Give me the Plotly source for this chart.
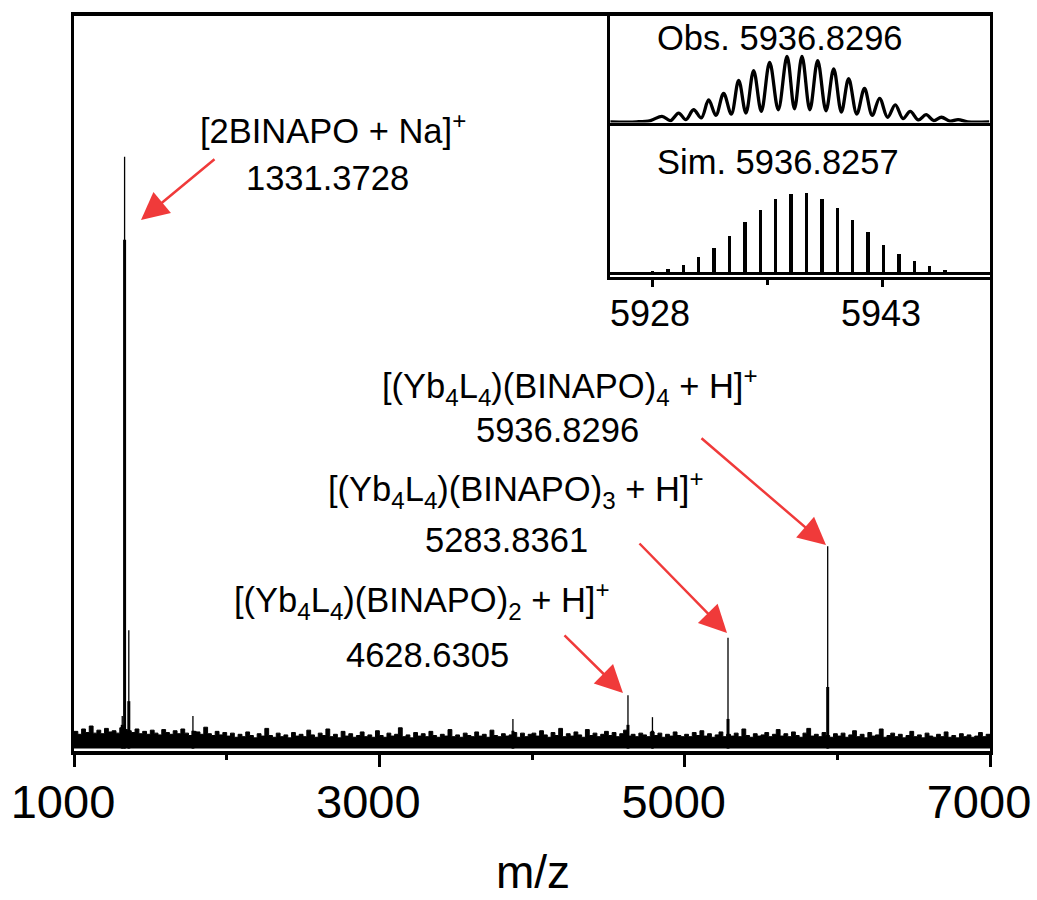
import plotly.graph_objects as go

# ---------------- main spectrum ----------------
# noise floor, sampled every 25 m/z from 1000 to 7000
noise_start = 1000
noise_step = 25
noise_int = [
    2.9, 2.4, 3.3, 2.7, 3.8, 2.6, 3.1, 2.5, 3.4, 2.8, 3.0, 2.6, 3.5, 3.2, 3.0, 2.7, 3.3, 2.5, 2.9, 2.4,
    3.1, 2.6, 2.3, 3.2, 2.7, 2.4, 3.0, 2.5, 3.3, 2.6, 2.2, 2.9, 2.8, 2.4, 3.6, 2.5, 2.2, 2.9, 2.3, 2.7,
    2.1, 2.6, 1.9, 2.4, 2.0, 2.8, 2.2, 1.8, 2.5, 2.1, 3.4, 2.2, 1.9, 2.6, 2.0, 2.3, 1.8, 2.7, 2.1, 2.4,
    2.0, 3.1, 2.3, 1.9, 2.6, 2.2, 3.3, 2.0, 2.4, 1.8, 2.9, 2.1, 2.5, 1.9, 2.2, 2.8, 2.0, 2.3, 1.9, 3.0,
    2.2, 1.9, 2.6, 2.1, 2.4, 3.5, 2.0, 2.3, 1.8, 2.7, 2.1, 2.5, 2.0, 2.9, 2.2, 1.9, 2.4, 2.1, 3.2, 2.0,
    2.3, 1.9, 2.6, 2.2, 2.0, 2.8, 2.1, 2.4, 1.9, 3.1, 2.2, 2.0, 2.5, 2.1, 2.3, 2.7, 1.9, 2.6, 2.0, 2.4,
    2.6, 2.1, 3.0, 2.3, 1.9, 2.7, 2.2, 3.4, 2.0, 2.5, 2.1, 2.8, 2.3, 1.9, 3.2, 2.2, 2.6, 2.0, 2.4, 2.9,
    2.2, 2.7, 2.0, 2.5, 3.1, 2.1, 2.4, 2.0, 2.6, 2.3, 2.0, 2.8, 2.2, 2.6, 1.9, 2.4, 2.1, 2.8, 2.2, 2.0,
    2.4, 2.0, 2.7, 2.2, 3.0, 2.1, 2.5, 1.9, 2.3, 2.8, 2.0, 2.4, 2.1, 2.6, 2.0, 3.3, 2.2, 1.9, 2.5, 2.1,
    2.3, 2.7, 2.0, 2.4, 3.2, 2.1, 2.5, 2.0, 2.8, 2.2, 1.9, 2.6, 3.4, 2.1, 2.4, 2.0, 2.7, 2.2, 1.9, 2.5,
    2.1, 2.6, 1.9, 2.3, 3.0, 2.0, 2.4, 1.8, 2.7, 2.1, 2.3, 3.3, 1.9, 2.2, 2.6, 2.0, 2.4, 1.8, 2.2, 2.9,
    2.0, 2.3, 1.8, 2.6, 2.1, 1.9, 2.4, 2.0, 2.8, 1.9, 2.2, 1.8, 2.5, 2.0, 2.3, 1.9, 2.1, 2.7, 2.0, 2.4,
    2.2,
]
noise_mz = [noise_start + i * noise_step for i in range(len(noise_int))]

# resolved peaks: position, apex intensity, height of the broad lower part
peak_mz = [1316.0, 1331.3728, 1359.0, 1779.0, 3875.0, 4628.6305, 4789.0, 5283.8361, 5936.8296]
peak_top = [5.5, 100.0, 20.0, 5.5, 5.0, 9.0, 5.3, 18.7, 34.2]
peak_body = [4.0, 86.0, 8.0, 3.0, 3.0, 4.0, 3.0, 5.0, 10.4]

# ---------------- inset: isotope pattern ----------------
sim_mz = [5928, 5929, 5930, 5931, 5932, 5933, 5934, 5935, 5936, 5937, 5938,
          5939, 5940, 5941, 5942, 5943, 5944, 5945, 5946, 5947, 5948]
sim_int = [0.04, 0.07, 0.12, 0.21, 0.33, 0.48, 0.65, 0.80, 0.93, 0.99, 1.00,
           0.93, 0.82, 0.67, 0.52, 0.37, 0.25, 0.17, 0.10, 0.06, 0.03]

# observed profile: alternating valleys and maxima
obs_mz = [5925.3, 5927.0, 5927.9, 5928.65, 5929.2, 5929.73, 5930.2, 5930.70, 5931.2, 5931.68,
          5932.15, 5932.65, 5933.15, 5933.63, 5934.1, 5934.60, 5935.1, 5935.64, 5936.2, 5936.77,
          5937.25, 5937.74, 5938.25, 5938.76, 5939.3, 5939.80, 5940.3, 5940.77, 5941.3, 5941.80,
          5942.3, 5942.78, 5943.3, 5943.80, 5944.3, 5944.77, 5945.3, 5945.80, 5946.3, 5946.80,
          5947.35, 5947.88, 5948.5, 5949.9]
obs_int = [0.0, 0.0, 0.02, 0.085, 0.02, 0.135, 0.035, 0.185, 0.06, 0.335,
           0.10, 0.435, 0.12, 0.635, 0.135, 0.785, 0.16, 0.91, 0.185, 1.0,
           0.20, 1.0, 0.185, 0.935, 0.17, 0.81, 0.15, 0.66, 0.12, 0.51,
           0.10, 0.36, 0.07, 0.26, 0.05, 0.16, 0.03, 0.11, 0.02, 0.07,
           0.01, 0.035, 0.0, 0.0]

main_ticks = [1000, 3000, 5000, 7000]
inset_ticks = [5928, 5943]

# ---------------- geometry helpers ----------------
W, H = 1037, 900
PLOT_L, PLOT_R, PLOT_T, PLOT_B = 74, 990, 16, 751
PLOT_W, PLOT_H = PLOT_R - PLOT_L, PLOT_B - PLOT_T


def px_x(px):
    return (px - PLOT_L) / PLOT_W


def px_y(py):
    return (PLOT_B - py) / PLOT_H


FONT = "Liberation Sans, Arial, sans-serif"
RED = "#F03A3A"

fig = go.Figure()

# noise floor drawn as a filled step line
fig.add_trace(go.Scatter(
    x=noise_mz, y=noise_int, mode="lines", line=dict(color="black", width=1, shape="hv"),
    fill="tozeroy", fillcolor="black", xaxis="x", yaxis="y", hoverinfo="skip"))

# peaks: a bold lower part and a thin apex line
body_x, body_y, apex_x, apex_y = [], [], [], []
for m, top, body in zip(peak_mz, peak_top, peak_body):
    body_x += [m, m, None]
    body_y += [0, body, None]
    apex_x += [m, m, None]
    apex_y += [0, top, None]
fig.add_trace(go.Scatter(x=apex_x, y=apex_y, mode="lines", line=dict(color="black", width=1.3),
                         connectgaps=False, xaxis="x", yaxis="y"))
fig.add_trace(go.Scatter(x=body_x, y=body_y, mode="lines", line=dict(color="black", width=3),
                         connectgaps=False, xaxis="x", yaxis="y"))

# inset: simulated sticks
fig.add_trace(go.Bar(x=sim_mz, y=sim_int, width=0.22, marker=dict(color="black", line=dict(width=0)),
                     xaxis="x2", yaxis="y2"))
# inset: observed profile
fig.add_trace(go.Scatter(x=obs_mz, y=obs_int, mode="lines",
                         line=dict(color="black", width=3.3, shape="spline", smoothing=1.0),
                         xaxis="x3", yaxis="y3"))

inset_x0 = px_x(609.5)
sim_top = px_y(122.5)
sim_bot = px_y(276.5)

fig.update_layout(
    width=W, height=H,
    margin=dict(l=PLOT_L, r=W - PLOT_R, t=PLOT_T, b=H - PLOT_B, pad=0, autoexpand=False),
    paper_bgcolor="white", plot_bgcolor="white",
    showlegend=False, bargap=0,
    font=dict(family=FONT, color="black"),
    xaxis=dict(
        domain=[0, 1], range=[1000, 7000], tickvals=main_ticks, automargin=False,
        ticks="outside", ticklen=12, tickwidth=3, tickcolor="black",
        minor=dict(dtick=1000, tick0=1000, ticks="outside", ticklen=5, tickwidth=3, tickcolor="black"),
        showline=True, linewidth=4, linecolor="black", mirror=True,
        showgrid=False, zeroline=False,
        tickfont=dict(size=47, family=FONT), ticklabelshift=-11, ticklabelstandoff=-5,
    ),
    yaxis=dict(
        domain=[0, 1], range=[-0.42, 123.8], showticklabels=False, ticks="", automargin=False,
        showline=True, linewidth=3, linecolor="black", mirror=True,
        showgrid=False, zeroline=False,
    ),
    xaxis2=dict(
        domain=[inset_x0, 1], anchor="y2", range=[5925.24, 5949.95], tickvals=inset_ticks,
        automargin=False,
        ticks="outside", ticklen=7, tickwidth=2.5, tickcolor="black",
        minor=dict(tickmode="array", tickvals=[5935.5], ticks="outside", ticklen=5, tickwidth=2.5,
                   tickcolor="black"),
        showline=True, linewidth=3, linecolor="black", showgrid=False, zeroline=False,
        tickfont=dict(size=36, family=FONT), ticklabelstandoff=-4, ticklabelshift=-2,
    ),
    yaxis2=dict(
        domain=[sim_bot, sim_top], anchor="x2", range=[-0.031, 1.87], automargin=False,
        showticklabels=False, ticks="", showline=True, linewidth=3, linecolor="black",
        showgrid=False, zeroline=True, zerolinecolor="black", zerolinewidth=2.5,
    ),
    xaxis3=dict(
        domain=[inset_x0, 1], anchor="y3", range=[5925.24, 5949.95], matches="x2",
        automargin=False,
        showticklabels=False, ticks="", showline=True, linewidth=3, linecolor="black",
        showgrid=False, zeroline=False,
    ),
    yaxis3=dict(
        domain=[sim_top, 1], anchor="x3", range=[-0.01, 1.62], automargin=False,
        showticklabels=False, ticks="", showline=True, linewidth=3, linecolor="black",
        showgrid=False, zeroline=False,
    ),
)

# text labels: (text, centre x px, centre y px, size)
labels = [
    ("[2BINAPO + Na]<sup>+</sup>", 333, 128, 34.5),
    ("1331.3728", 327, 178, 34.5),
    ("[(Yb<sub>4</sub>L<sub>4</sub>)(BINAPO)<sub>4</sub> + H]<sup>+</sup>", 570, 386, 34.5),
    ("5936.8296", 557, 430, 34.5),
    ("[(Yb<sub>4</sub>L<sub>4</sub>)(BINAPO)<sub>3</sub> + H]<sup>+</sup>", 516, 490, 34.5),
    ("5283.8361", 506, 540, 34.5),
    ("[(Yb<sub>4</sub>L<sub>4</sub>)(BINAPO)<sub>2</sub> + H]<sup>+</sup>", 422, 600, 34.5),
    ("4628.6305", 427, 655, 34.5),
    ("Obs. 5936.8296", 780, 38, 34.5),
    ("Sim. 5936.8257", 778, 162, 34.5),
    ("m/z", 533, 872, 46),
]
for text, cx, cy, size in labels:
    fig.add_annotation(text=text, x=px_x(cx), y=px_y(cy), xref="paper", yref="paper",
                       xanchor="center", yanchor="middle", showarrow=False,
                       font=dict(size=size, family=FONT, color="black"))

# arrows: head (x, y) and tail (x, y) in pixels
arrows = [
    ((141, 220), (216, 158)),
    ((826, 545), (700, 437)),
    ((727, 633), (638, 542)),
    ((623, 693), (563, 634)),
]
for (hx, hy), (tx, ty) in arrows:
    fig.add_annotation(text="", x=px_x(hx), y=px_y(hy), xref="paper", yref="paper",
                       ax=tx - hx, ay=ty - hy, showarrow=True,
                       arrowhead=2, arrowsize=2.2, arrowwidth=2.5, arrowcolor=RED, standoff=0)

fig.write_html("out.html")
